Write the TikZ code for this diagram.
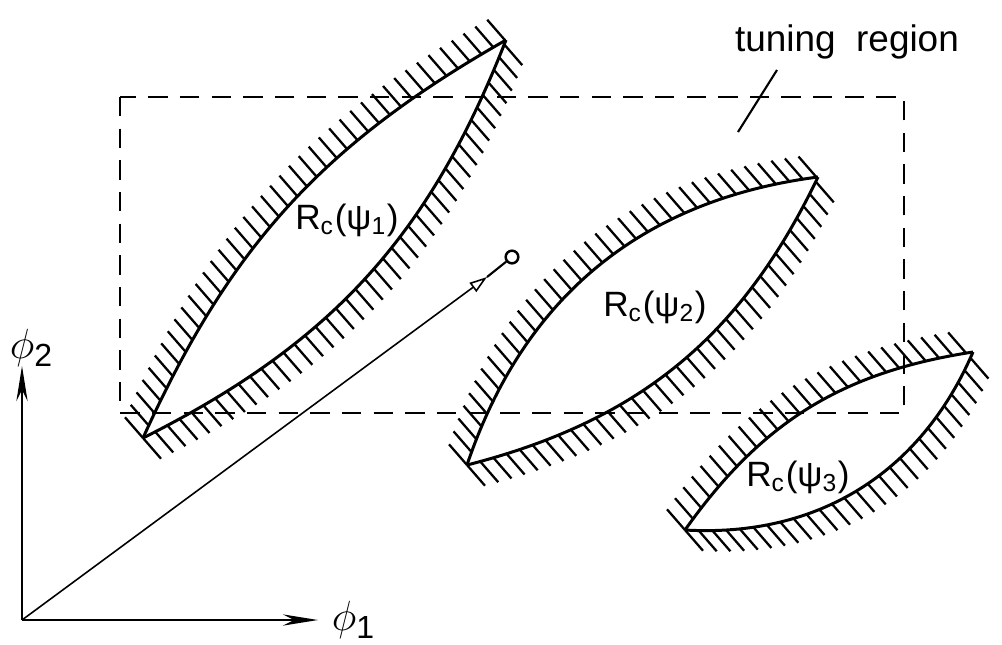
\documentclass[tikz,border=0pt]{standalone}
\usepackage{fontspec}
\setmainfont{Liberation Sans}
\usetikzlibrary{arrows.meta,decorations.markings}

\begin{document}
\begin{tikzpicture}[
    x=0.01cm, y=-0.01cm,
    every node/.style={font=\fontsize{10.5}{12}\selectfont, inner sep=1pt},
    lens/.style={line width=0.85pt},
    hatchup/.style={postaction={decorate, decoration={markings,
        mark=between positions 0 and 1 step 3.9pt with
        {\pgftransformresetnontranslations
         \draw[line width=0.65pt] (0,0) -- (131:7.8pt);}}}},
    hatchdn/.style={postaction={decorate, decoration={markings,
        mark=between positions 0 and 1 step 3.9pt with
        {\pgftransformresetnontranslations
         \draw[line width=0.65pt] (0,0) -- (-49:7.8pt);}}}},
    tuning/.style={dash pattern=on 5.5pt off 3.5pt, line width=0.7pt},
    axis/.style={line width=0.6pt, -{Stealth[length=10pt,width=3.2pt]}},
    ray/.style={line width=0.45pt, -{Triangle[open,length=5pt,width=3.2pt]}},
    dot/.style={draw, circle, inner sep=0pt, minimum size=3.6pt, line width=0.7pt},
    regionlbl/.style={font=\fontsize{10}{12}\selectfont},
    axislbl/.style={font=\fontsize{13}{14}\selectfont},
]
\useasboundingbox (0,0) rectangle (1002,644);

%% Tuning region (dashed box)
\draw[tuning] (120,97) rectangle (904,413);
\node (tunelbl) at (847,42) {tuning\ \ region};
\coordinate (leadA) at (777,70);
\coordinate (leadB) at (738,132);
\draw[line width=0.6pt] (leadA) -- (leadB);

%% Lens tips
\coordinate (l1a) at (143,438);
\coordinate (l1b) at (506,40);
\coordinate (l2a) at (467,465);
\coordinate (l2b) at (818,177);
\coordinate (l3a) at (685,530);
\coordinate (l3b) at (973,352);

%% Regions R_c(psi_i), hatched on the outside
\draw[lens, hatchup] (l1a) to[bend left=18]  (l1b);
\draw[lens, hatchdn] (l1a) to[bend right=21] (l1b);
\draw[lens, hatchup] (l2a) to[bend left=32]  (l2b);
\draw[lens, hatchdn] (l2a) to[bend right=25] (l2b);
\draw[lens, hatchup] (l3a) to[bend left=23]  (l3b);
\draw[lens, hatchdn] (l3a) to[bend right=35] (l3b);

\node[regionlbl] (rone)   at (347,220) {R\textsubscript{c}(ψ\textsubscript{1})};
\node[regionlbl] (rtwo)   at (655,307) {R\textsubscript{c}(ψ\textsubscript{2})};
\node[regionlbl] (rthree) at (798,477) {R\textsubscript{c}(ψ\textsubscript{3})};

%% Axes
\coordinate (origin) at (22,620);
\coordinate (ytip) at (22,366);
\coordinate (xtip) at (318,620);
\draw[axis] (origin) -- (ytip);
\draw[axis] (origin) -- (xtip);
\node[axislbl] (phitwo) at (32,348) {$\phi$\textsubscript{2}};
\node[axislbl] (phione) at (354,620) {$\phi$\textsubscript{1}};

%% Operating point
\coordinate (raytip) at (487,277);
\node[dot] (oppt) at (512,257) {};
\draw[ray] (origin) -- (raytip);
\draw[line width=0.6pt] (raytip) -- (oppt);

\end{tikzpicture}
\end{document}
